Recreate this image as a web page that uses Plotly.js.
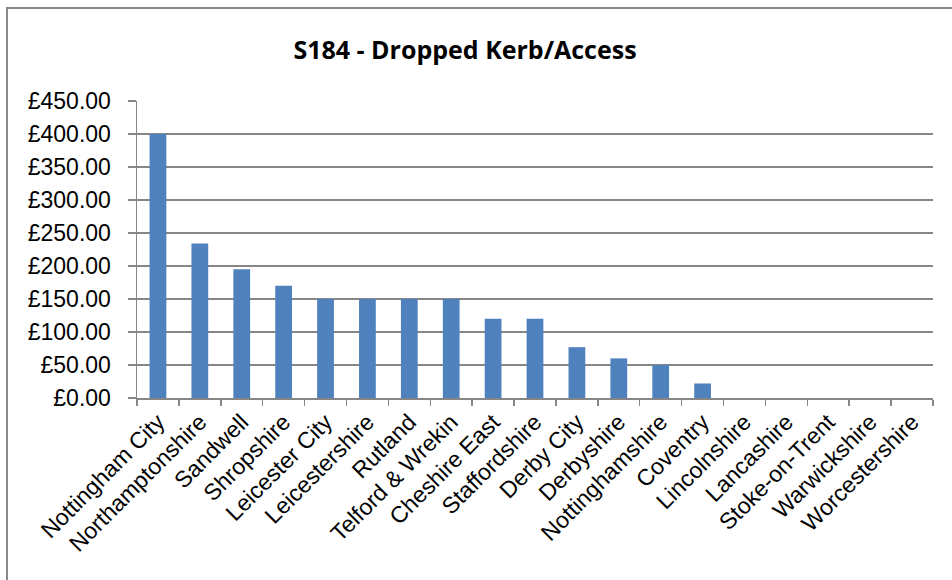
<!DOCTYPE html>
<html>
<head>
<meta charset="utf-8">
<script src="https://cdn.plot.ly/plotly-3.0.1.min.js"></script>
<style>
  html, body { margin: 0; padding: 0; background: #ffffff; }
  #wrap { position: relative; width: 952px; height: 580px; overflow: hidden; }
  #chart { position: absolute; left: 0; top: 0; width: 952px; height: 580px; }
  #frame { position: absolute; left: 6px; top: 7px; width: 1000px; height: 1000px;
           border-top: 2px solid #8a8a8a; border-left: 2px solid #8a8a8a; pointer-events: none; }
</style>
</head>
<body>
<div id="wrap">
  <div id="chart"></div>
  <div id="frame"></div>
</div>
<script>
// Authorities and the S184 dropped kerb / access fee for each
const authorities = [
  "Nottingham City", "Northamptonshire", "Sandwell", "Shropshire", "Leicester City",
  "Leicestershire", "Rutland", "Telford & Wrekin", "Cheshire East", "Staffordshire",
  "Derby City", "Derbyshire", "Nottinghamshire", "Coventry", "Lincolnshire",
  "Lancashire", "Stoke-on-Trent", "Warwickshire", "Worcestershire"
];
const fees = [400, 234, 195, 170, 150, 150, 150, 150, 120, 120, 77, 60, 50, 22, 0, 0, 0, 0, 0];

const yTickValues = [0, 50, 100, 150, 200, 250, 300, 350, 400, 450];
const yTickLabels = yTickValues.map(v => "£" + v.toFixed(2));

const axisGrey = "#868686";
const labelFont = { family: "Liberation Sans, Arial, sans-serif", size: 23, color: "#000000" };

const trace = {
  type: "bar",
  x: authorities,
  y: fees,
  marker: { color: "#4f81bd" },
  hoverinfo: "x+y"
};

const layout = {
  width: 952,
  height: 580,
  paper_bgcolor: "#ffffff",
  plot_bgcolor: "#ffffff",
  margin: { l: 137, r: 19, t: 101, b: 182 },
  showlegend: false,
  bargap: 0.6,
  title: {
    text: "<b>S184 - Dropped Kerb/Access</b>",
    font: { family: "Open Sans, Noto Sans, sans-serif", size: 25, color: "#000000" },
    xref: "container", yref: "container",
    x: 465 / 952, xanchor: "center",
    y: 1 - 50 / 580, yanchor: "middle"
  },
  xaxis: {
    type: "category",
    tickangle: -45,
    tickfont: labelFont,
    showline: true,
    linecolor: axisGrey,
    linewidth: 1.5,
    ticks: "outside",
    tickson: "boundaries",
    ticklen: 6,
    tickcolor: axisGrey,
    tickwidth: 1.5,
    showgrid: false,
    zeroline: false,
    fixedrange: true
  },
  yaxis: {
    range: [0, 450],
    tickmode: "array",
    tickvals: yTickValues,
    ticktext: yTickLabels,
    tickfont: labelFont,
    showline: true,
    linecolor: axisGrey,
    linewidth: 1.5,
    ticks: "outside",
    ticklen: 8,
    tickcolor: axisGrey,
    tickwidth: 1.5,
    ticklabelstandoff: 12,
    showgrid: true,
    gridcolor: axisGrey,
    gridwidth: 1.5,
    zeroline: false,
    fixedrange: true
  }
};

Plotly.newPlot("chart", [trace], layout, { displayModeBar: false, staticPlot: true });
</script>
</body>
</html>
